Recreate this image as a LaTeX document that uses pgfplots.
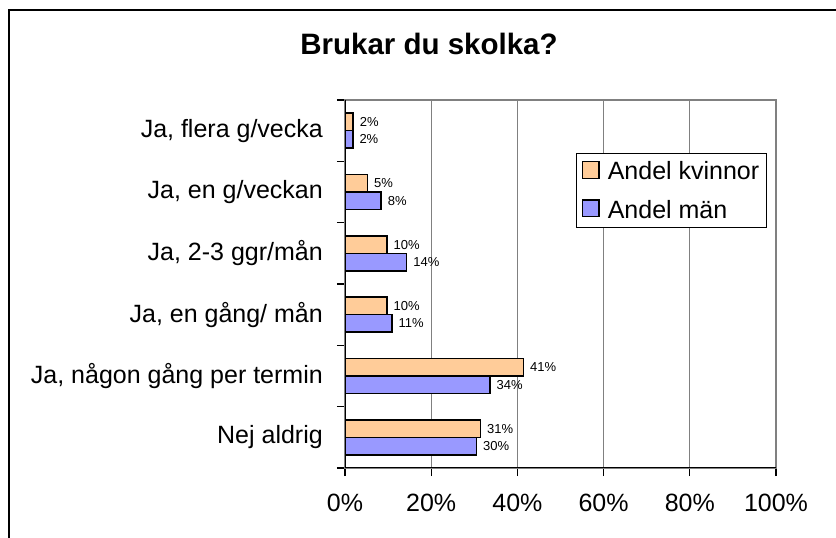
\documentclass[border=0pt]{standalone}
\usepackage{fontspec}
\setmainfont{Liberation Sans}
\usepackage{pgfplots}
\usepackage{pgfplotstable}
\pgfplotsset{compat=1.18}
\definecolor{kv}{HTML}{FFCC99}
\definecolor{man}{HTML}{9999FF}
\definecolor{gridgray}{HTML}{808080}
\pgfplotstableread{
c v lab
0 31.4 31
1 41.4 41
2 9.7 10
3 9.7 10
4 5.2 5
5 1.9 2
}\kvinnor
\pgfplotstableread{
c v lab
0 30.5 30
1 33.6 34
2 10.9 11
3 14.3 14
4 8.4 8
5 1.8 2
}\man
\begin{document}
\begin{tikzpicture}
\useasboundingbox (0,0) rectangle (836bp,538bp);
\draw[black, line width=1.2bp] (9bp,0) -- (9bp,528bp) -- (836bp,528bp);
\node[anchor=base, font=\fontsize{29.5bp}{34bp}\selectfont\bfseries] at (429bp,483bp) {Brukar du skolka?};
\begin{axis}[
  at={(345bp,70bp)}, anchor=south west,
  scale only axis, width=431bp, height=368bp,
  xmin=0, xmax=100, ymin=-0.5, ymax=5.5,
  xbar, bar width=0.285,
  axis line style={gridgray, line width=1.8bp},
  xtick={0,20,40,60,80,100},
  xticklabels={0\%,20\%,40\%,60\%,80\%,100\%},
  ytick={0,1,2,3,4,5},
  yticklabels={Nej aldrig, {Ja, någon gång per termin}, {Ja, en gång/ mån}, {Ja, 2-3 ggr/mån}, {Ja, en g/veckan}, {Ja, flera g/vecka}},
  minor ytick={-0.5,0.5,1.5,2.5,3.5,4.5,5.5},
  xtick pos=bottom, ytick pos=left,
  tick align=outside,
  major tick length=8bp, minor tick length=8bp,
  x tick style={black, line width=1.2bp},
  y tick style={draw=none},
  minor y tick style={draw=black, line width=1.2bp},
  xmajorgrids, major x grid style={gridgray, line width=1bp},
  ticklabel style={font=\fontsize{25bp}{30bp}\selectfont},
  xticklabel style={inner sep=0pt, anchor=north, yshift=-18bp},
  yticklabel style={inner sep=0pt, anchor=east, xshift=-14bp},
  nodes near coords={\pgfplotspointmeta\%},
  point meta=explicit symbolic,
  every node near coord/.append style={font=\fontsize{13bp}{15bp}\selectfont, anchor=west, inner sep=0pt, xshift=6bp, black},
  legend image code/.code={\draw[#1,/tikz/.cd,line width=1.5bp] (0bp,-7bp) rectangle (16.7bp,9.7bp);},
  legend cell align=left,
  legend style={at={(0.535,0.855)}, anchor=north west, draw=black, line width=0.8bp, fill=white,
    font=\fontsize{25bp}{30bp}\selectfont, inner xsep=5.6bp, inner ysep=4bp, row sep=11.3bp, column sep=6bp,
    nodes={inner sep=2bp, text height=20bp, text depth=3bp}},
]
\addplot[fill=kv, draw=black, line width=1.5bp, bar shift=0.1425] table[x=v, y=c, meta=lab] {\kvinnor};
\addlegendentry{Andel kvinnor}
\addplot[fill=man, draw=black, line width=1.5bp, bar shift=-0.1425] table[x=v, y=c, meta=lab] {\man};
\addlegendentry{Andel män}
\draw[black, line width=1.5bp] (rel axis cs:0,1) -- (rel axis cs:0,0) -- (rel axis cs:1,0);
\end{axis}
\end{tikzpicture}
\end{document}
